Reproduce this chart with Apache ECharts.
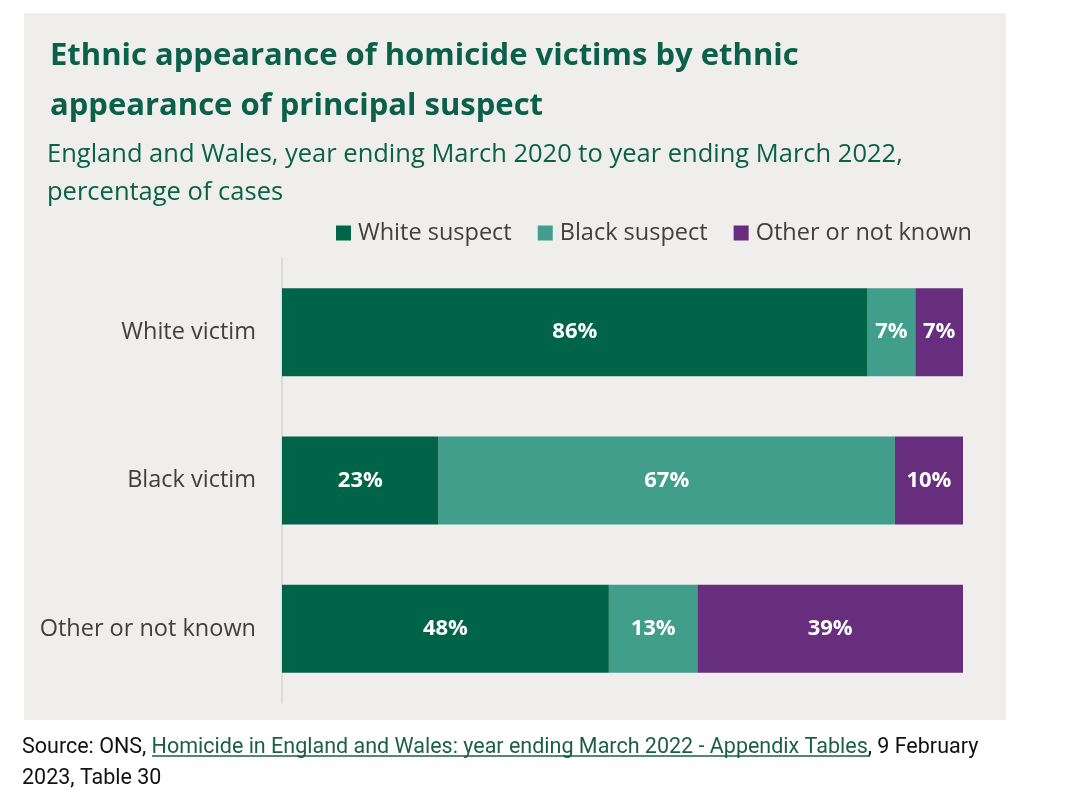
<!DOCTYPE html>
<html>
<head>
<meta charset="utf-8">
<script src="https://cdn.jsdelivr.net/npm/echarts@6/dist/echarts.min.js"></script>
<style>
    html, body { margin: 0; padding: 0; background: #ffffff; }
    #chart { width: 1080px; height: 801px; }
</style>
</head>
<body>
<div id="chart"></div>
<script>
(function () {
    'use strict';

    // victim groups (y axis) and suspect groups (series)
    var categories = ['White victim', 'Black victim', 'Other or not known'];
    var whiteSuspect = [86, 23, 48];
    var blackSuspect = [7, 67, 13];
    var otherSuspect = [7, 10, 39];
    var seriesNames = ['White suspect', 'Black suspect', 'Other or not known'];
    var colorlist = ['#006548', '#409e8a', '#662e7c'];

    var chart = echarts.init(document.getElementById('chart'));

    function makeSeries(name, values, color) {
        return {
            name: name,
            type: 'bar',
            stack: 'total',
            barWidth: 88,
            data: values,
            itemStyle: { color: color },
            label: {
                show: true,
                position: 'inside',
                formatter: '{c}%',
                color: '#ffffff',
                fontFamily: 'Open Sans',
                fontWeight: 'bold',
                fontSize: 22
            }
        };
    }

    var option = {
        backgroundColor: '#ffffff',
        animation: false,
        title: [{
            text: 'Ethnic appearance of homicide victims by ethnic\nappearance of principal suspect',
            left: 45,
            top: 26,
            textStyle: {
                color: '#0b6148',
                fontFamily: 'Open Sans',
                fontWeight: 'bold',
                fontSize: 31,
                lineHeight: 50
            }
        }, {
            text: 'England and Wales, year ending March 2020 to year ending March 2022,\npercentage of cases',
            left: 42,
            top: 131,
            textStyle: {
                color: '#0b6148',
                fontFamily: 'Open Sans',
                fontWeight: 'normal',
                fontSize: 25.5,
                lineHeight: 38
            }
        }],
        legend: {
            right: 103,
            top: 216,
            itemWidth: 15,
            itemHeight: 15,
            itemGap: 26,
            icon: 'rect',
            data: seriesNames,
            textStyle: {
                color: '#404040',
                fontFamily: 'Open Sans',
                fontSize: 23.5,
                padding: [0, 0, 0, 2]
            }
        },
        grid: {
            left: 282,
            right: 117,
            top: 258,
            bottom: 98,
            containLabel: false
        },
        xAxis: {
            type: 'value',
            min: 0,
            max: 100,
            show: false
        },
        yAxis: {
            type: 'category',
            inverse: true,
            data: categories,
            axisLine: { show: true, lineStyle: { color: '#d4d4d4', width: 1.5 } },
            axisTick: { show: false },
            axisLabel: {
                color: '#404040',
                fontFamily: 'Open Sans',
                fontSize: 23.5,
                margin: 26
            }
        },
        graphic: [{
            type: 'rect',
            z: -10,
            silent: true,
            shape: { x: 24, y: 13, width: 982, height: 707 },
            style: { fill: '#efeeed' }
        }, {
            type: 'text',
            left: 22,
            top: 737,
            style: {
                text: '{a|Source: ONS, }{l|Homicide in England and Wales: year ending March 2022 - Appendix Tables}{a|, 9 February}\n{a|2023, Table 30}',
                rich: {
                    a: { fill: '#111111', fontFamily: 'Liberation Sans Narrow, Roboto', fontSize: 21.5, lineHeight: 31 },
                    l: { fill: '#1d5e4a', fontFamily: 'Liberation Sans Narrow, Roboto', fontSize: 21.5, lineHeight: 31 }
                }
            }
        }, {
            type: 'line',
            silent: true,
            shape: { x1: 152, y1: 756, x2: 870, y2: 756 },
            style: { stroke: '#1d5e4a', lineWidth: 1.5 }
        }],
        series: [
            makeSeries(seriesNames[0], whiteSuspect, colorlist[0]),
            makeSeries(seriesNames[1], blackSuspect, colorlist[1]),
            makeSeries(seriesNames[2], otherSuspect, colorlist[2])
        ]
    };

    chart.setOption(option);
})();
</script>
</body>
</html>
